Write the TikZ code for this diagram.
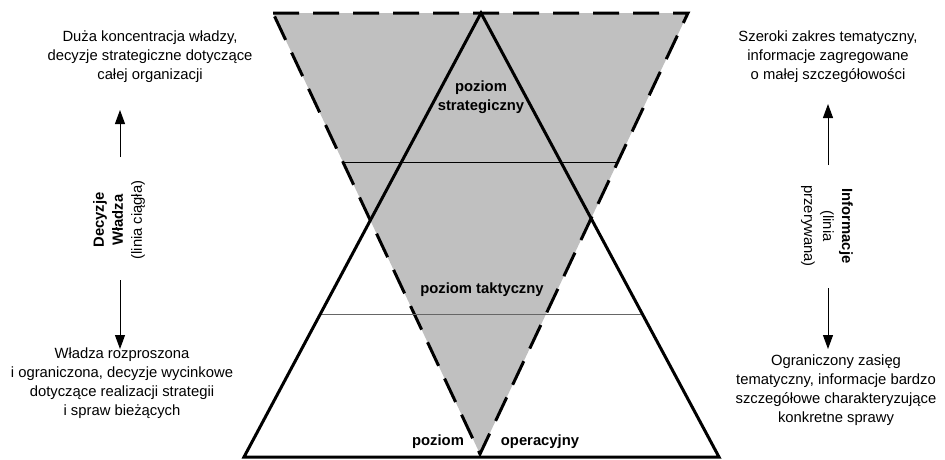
\documentclass[tikz,border=0pt]{standalone}
\usepackage{fontspec}
\setmainfont{Liberation Sans}
\usetikzlibrary{arrows.meta, calc}
\definecolor{cfill}{HTML}{C0C0C0}
\definecolor{cline}{HTML}{000000}
\tikzset{
  every picture/.style={x=1pt, y=-1pt},
  every node/.style={font=\fontsize{14.8}{19}\selectfont, align=center, inner sep=0pt},
  level/.style={font=\fontsize{14.8}{19}\selectfont\bfseries},
  tri/.style={line width=3pt, draw=cline, line join=miter},
  dashtri/.style={tri, fill=cfill, dash pattern=on 26pt off 14pt},
  cut/.style={line width=1pt, draw=#1},
  cut/.default=black,
  arrow/.style={-{Triangle[length=14pt, width=10pt]}, line width=1pt},
}
\begin{document}
\begin{tikzpicture}
  \useasboundingbox (0,0) rectangle (945,459);

  % ---- triangles
  \coordinate (tl) at (273,13);
  \coordinate (tr) at (688,13);
  \coordinate (tb) at (480,454);
  \coordinate (ta) at (481,13);
  \coordinate (bl) at (244,457);
  \coordinate (br) at (719,457);

  \draw[dashtri] (tl) -- (tr) -- (tb) -- cycle;
  \draw[cut] ($(tl)!0.338!(tb)$) -- ($(tr)!0.338!(tb)$);
  \draw[cut=black!60] ($(ta)!0.678!(bl)$) -- ($(ta)!0.678!(br)$);
  \draw[tri] (ta) -- (br) -- (bl) -- cycle;

  \node[level] (strat) at (481,97) {poziom\\strategiczny};
  \node[level] (takt)  at (482,290) {poziom taktyczny};
  \node[level] (op1)   at (438,442) {poziom};
  \node[level] (op2)   at (540,442) {operacyjny};

  % ---- left side
  \node (wtop) at (150,57) {Duża koncentracja władzy,\\decyzje strategiczne dotyczące\\całej organizacji};
  \node[rotate=90] (dec) at (119,220) {\textbf{Decyzje}\\\textbf{Władza}\\(linia ciągła)};
  \node (wbot) at (122,383) {Władza rozproszona\\i ograniczona, decyzje wycinkowe\\dotyczące realizacji strategii\\i spraw bieżących};
  \coordinate (decup) at (120,157);
  \coordinate (decdn) at (120,280);
  \draw[arrow] (decup) -- (120,110) coordinate (dectip);
  \draw[arrow] (decdn) -- (120,349) coordinate (decbot);

  % ---- right side
  \node (itop) at (828,57) {Szeroki zakres tematyczny,\\informacje zagregowane\\o małej szczegółowości};
  \node[rotate=-90] (inf) at (827,226) {\textbf{Informacje}\\(linia\\przerywana)};
  \node (ibot) at (836,390) {Ograniczony zasięg\\tematyczny, informacje bardzo\\szczegółowe charakteryzujące\\konkretne sprawy};
  \coordinate (infup) at (828,165);
  \coordinate (infdn) at (828,288);
  \draw[arrow] (infup) -- (828,104) coordinate (inftip);
  \draw[arrow] (infdn) -- (828,349) coordinate (infbot);
\end{tikzpicture}
\end{document}
